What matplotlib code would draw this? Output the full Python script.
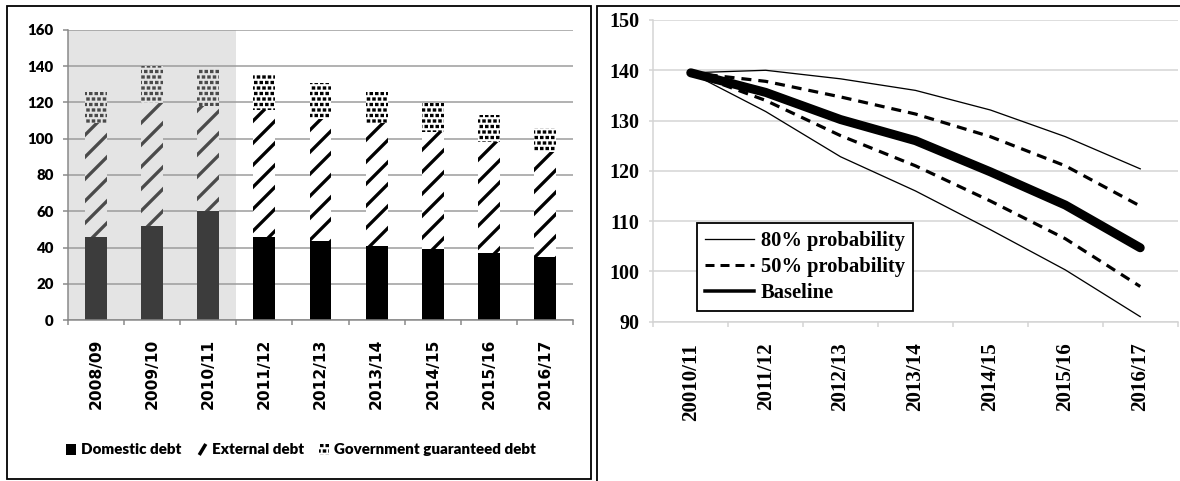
import matplotlib
matplotlib.use("Agg")
import matplotlib.pyplot as plt
import matplotlib.hatch as mhatch
from matplotlib.path import Path
import numpy as np
from matplotlib.patches import Rectangle, Patch
from matplotlib.lines import Line2D

DPI = 132
W, H = 1180, 481


def px(v):
    return v * 72.0 / DPI


plt.rcParams['hatch.linewidth'] = px(3.3)
plt.rcParams['lines.scale_dashes'] = False


# square-dot texture for the "guaranteed debt" segments: a very short
# open stroke, rendered with square caps, gives a solid small square
class SquareDots(mhatch.Shapes):
    size = 0.02
    filled = True

    def __init__(self, hatch, density):
        self.num_rows = hatch.count('.') * density
        self.shape_vertices = np.array([[-1.0, 0.0], [1.0, 0.0]])
        self.shape_codes = np.array([Path.MOVETO, Path.LINETO],
                                    dtype=Path.code_type)
        super().__init__(hatch, density)


mhatch._hatch_types = [SquareDots if t is mhatch.SmallFilledCircles else t
                       for t in mhatch._hatch_types]

# ---------------- data ----------------
years_left = ["2008/09", "2009/10", "2010/11", "2011/12", "2012/13",
              "2013/14", "2014/15", "2015/16", "2016/17"]
domestic = [46, 52, 60, 46, 43.5, 41, 39.3, 36.7, 34.8]
external = [62.7, 67.5, 58, 70, 67.5, 67.7, 64.5, 61.5, 57.9]
guaranteed = [17.3, 20.5, 21, 19.6, 19.5, 17.3, 16, 14.8, 13.3]
n_actual = 3  # shaded (actual) years

years_right = ["20010/11", "2011/12", "2012/13", "2013/14",
               "2014/15", "2015/16", "2016/17"]
baseline = [139.5, 135.6, 130.2, 126.0, 119.8, 113.2, 104.7]
upper80 = [139.5, 140.0, 138.3, 136.0, 132.1, 126.8, 120.4]
upper50 = [139.5, 137.8, 134.7, 131.3, 126.8, 121.0, 113.0]
lower50 = [139.5, 134.0, 127.0, 121.0, 114.0, 106.5, 97.0]
lower80 = [139.5, 131.8, 122.8, 116.0, 108.3, 100.3, 91.0]

fig = plt.figure(figsize=(W / DPI, H / DPI), dpi=DPI)


def fx(x):
    return x / W


def fy(y):
    return (H - y) / H


DOTS = '....'

# ---------------- left chart ----------------
axL = fig.add_axes([fx(67.7), fy(320), (573.3 - 67.7) / W, (320 - 30) / H])
x = np.arange(len(years_left))
dom = np.array(domestic)
ext = np.array(external)
gov = np.array(guaranteed)
shade = '#e4e4e4'
axL.axvspan(-0.5, n_actual - 0.5, color=shade, zorder=0, lw=0)
bw = 0.386
for i in range(len(x)):
    actual = i < n_actual
    dcol = '#3c3c3c' if actual else 'black'
    bg = shade if actual else 'white'
    hc = '#4a4a4a' if actual else 'black'
    axL.bar(x[i], dom[i], width=bw, color=dcol, lw=0, zorder=2)
    axL.bar(x[i], ext[i], bottom=dom[i], width=bw, facecolor=bg,
            edgecolor=hc, hatch='//', lw=0, zorder=2)
    axL.bar(x[i], gov[i], bottom=dom[i] + ext[i], width=bw, facecolor=bg,
            edgecolor=hc, hatch=DOTS, lw=0, zorder=2)

axL.set_xlim(-0.5, len(x) - 0.5)
axL.set_ylim(0, 160)
axL.set_yticks(np.arange(0, 161, 20))
axL.set_axisbelow(True)
axL.yaxis.grid(True, color='#9a9a9a', lw=px(1.5))
for s in ['top', 'right']:
    axL.spines[s].set_visible(False)
for s in ['left', 'bottom']:
    axL.spines[s].set_color('#888888')
    axL.spines[s].set_linewidth(px(1.5))
axL.set_xticks(x)
axL.set_xticklabels(years_left, rotation=90, fontfamily='DejaVu Sans',
                    fontweight='bold', fontsize=px(15.5))
axL.set_xticks(np.arange(-0.5, len(x)), minor=True)
axL.tick_params(axis='x', which='major', length=0, pad=px(19))
axL.tick_params(axis='x', which='minor', length=px(5), color='#888888',
                width=px(1.5))
axL.tick_params(axis='y', length=px(5), color='#888888', width=px(1.5),
                pad=px(9))
for lab in axL.get_yticklabels():
    lab.set_fontfamily('Lato')
    lab.set_fontweight('heavy')
    lab.set_fontsize(px(15))

hL = [Patch(facecolor='black', lw=0),
      Line2D([], [], ls='none', marker=[(-0.6, -1.0), (0.6, 1.0)],
             markersize=px(11), markeredgewidth=px(3.5), color='black'),
      Patch(facecolor='white', edgecolor='black', hatch=DOTS, lw=0)]
legL = fig.legend(hL, ["Domestic debt", "External debt",
                       "Government guaranteed debt"],
                  loc='center', bbox_to_anchor=(fx(301), fy(450)),
                  ncol=3, frameon=False, handlelength=0.65, handleheight=0.75,
                  handletextpad=0.35, columnspacing=1.0,
                  prop={'family': 'Lato', 'weight': 'heavy', 'size': px(15.2)})

# ---------------- right chart ----------------
axR = fig.add_axes([fx(653.3), fy(321.7), (1177.7 - 653.3) / W,
                    (321.7 - 20) / H])
xr = np.arange(len(years_right))
axR.plot(xr, upper80, color='black', lw=px(1.3), zorder=3)
axR.plot(xr, lower80, color='black', lw=px(1.3), zorder=3)
axR.plot(xr, upper50, color='black', lw=px(3.2), dashes=(px(10), px(7)),
         zorder=3)
axR.plot(xr, lower50, color='black', lw=px(3.2), dashes=(px(10), px(7)),
         zorder=3)
axR.plot(xr, baseline, color='black', lw=px(9), solid_capstyle='round',
         zorder=4)
axR.set_xlim(-0.5, len(xr) - 0.5)
axR.set_ylim(90, 150)
axR.set_yticks(np.arange(90, 151, 10))
axR.set_axisbelow(True)
axR.yaxis.grid(True, color='#d4d4d4', lw=px(1.5))
for s in ['top', 'right']:
    axR.spines[s].set_visible(False)
for s in ['left', 'bottom']:
    axR.spines[s].set_color('#d4d4d4')
    axR.spines[s].set_linewidth(px(1.5))
axR.set_xticks(xr)
axR.set_xticklabels(years_right, rotation=90, fontfamily='Liberation Serif',
                    fontweight='bold', fontsize=px(21))
axR.set_xticks(np.arange(-0.5, len(xr)), minor=True)
axR.tick_params(axis='x', which='major', length=0, pad=px(21))
axR.tick_params(axis='x', which='minor', length=px(5), color='#d4d4d4',
                width=px(1.5))
axR.tick_params(axis='y', length=px(4), color='#d4d4d4', width=px(1.5),
                pad=px(10))
for lab in axR.get_yticklabels():
    lab.set_fontfamily('Liberation Serif')
    lab.set_fontweight('bold')
    lab.set_fontsize(px(20))

hR = [Line2D([], [], color='black', lw=px(1.3)),
      Line2D([], [], color='black', lw=px(3), dashes=(px(9), px(6))),
      Line2D([], [], color='black', lw=px(3.5))]
legR = axR.legend(hR, ["80% probability", "50% probability", "Baseline"],
                  loc='upper left', bbox_to_anchor=(fx(697), fy(222.5)),
                  bbox_transform=fig.transFigure, borderaxespad=0,
                  fancybox=False, framealpha=1, edgecolor='black',
                  handlelength=2.4, handletextpad=0.3, labelspacing=0.3,
                  borderpad=0.4,
                  prop={'family': 'Liberation Serif', 'weight': 'bold',
                        'size': px(20.5)})
legR.get_frame().set_linewidth(px(1.8))

# ---------------- panel frames ----------------
fig.add_artist(Rectangle((fx(6.5), fy(479)), (591 - 6.5) / W, (479 - 5.5) / H,
                         transform=fig.transFigure, fill=False,
                         edgecolor='black', lw=px(1.8), clip_on=False))
fig.add_artist(Rectangle((fx(597), fy(490)), (1190 - 597) / W, (490 - 5.5) / H,
                         transform=fig.transFigure, fill=False,
                         edgecolor='black', lw=px(1.8), clip_on=False))

fig.savefig("out.png", dpi=DPI)
